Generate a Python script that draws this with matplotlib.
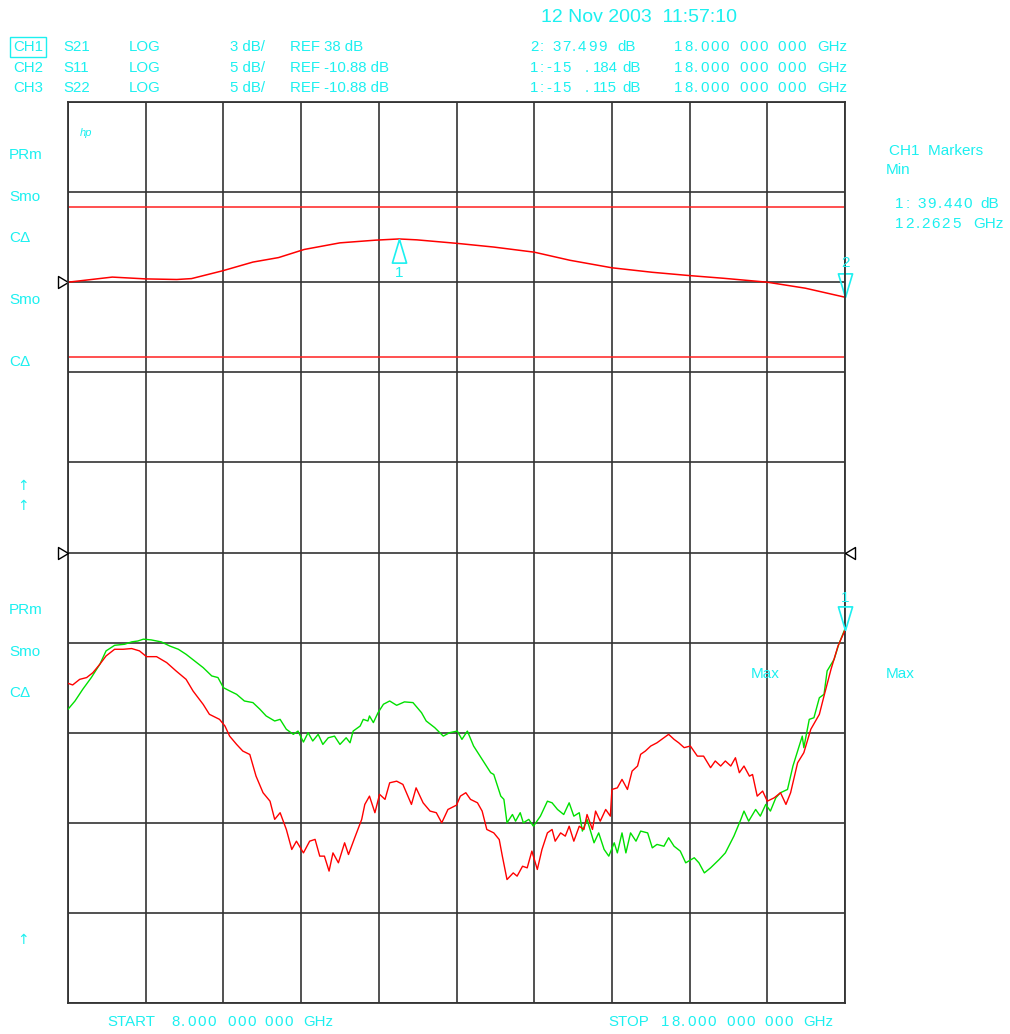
import numpy as np
import matplotlib
matplotlib.use("Agg")
import matplotlib.pyplot as plt

plt.rcParams['font.family'] = ['Liberation Sans', 'DejaVu Sans']

cyan = '#1CF0F0'
W, H = 1010, 1034

# CH1 S21 (LOG, 3 dB/div, REF 38 dB)
ch1_ref = 38.0
ch1_scale = 3.0
ch1_f = [8.0, 8.57, 9.0, 9.40, 9.59, 9.99, 10.38, 10.71, 11.04, 11.50, 11.96, 12.26,
         12.49, 13.02, 13.48, 14.0, 14.46, 15.0, 15.52, 16.0, 16.44, 17.0, 17.49, 18.0]
ch1_db = [38.0, 38.17, 38.11, 38.09, 38.12, 38.38, 38.67, 38.82, 39.09, 39.31, 39.40, 39.44,
          39.41, 39.29, 39.17, 39.0, 38.73, 38.48, 38.33, 38.22, 38.13, 38.0, 37.80, 37.50]
ch1_limits = [40.5, 35.5]

# CH2 S11 / CH3 S22 (LOG, 5 dB/div, REF -10.88 dB)
ch23_ref = -10.88
ch23_scale = 5.0
ch2_f = [8.0, 8.06, 8.15, 8.24, 8.32, 8.41, 8.49, 8.6, 8.71, 8.82, 8.92, 9.01, 9.14, 9.27,
         9.39, 9.52, 9.61, 9.74, 9.82, 9.95, 10.02, 10.08, 10.17, 10.25, 10.34, 10.42, 10.51,
         10.6, 10.66, 10.73, 10.81, 10.88, 10.94, 11.03, 11.11, 11.18, 11.24, 11.3, 11.36,
         11.41, 11.48, 11.56, 11.61, 11.69, 11.78, 11.82, 11.88, 11.95, 12.01, 12.08, 12.14,
         12.23, 12.31, 12.42, 12.48, 12.57, 12.66, 12.74, 12.81, 12.89, 13.0, 13.05, 13.12,
         13.18, 13.27, 13.33, 13.39, 13.48, 13.55, 13.59, 13.65, 13.73, 13.78, 13.85, 13.91,
         13.97, 14.04, 14.1, 14.17, 14.23, 14.27, 14.34, 14.4, 14.45, 14.51, 14.58, 14.64,
         14.68, 14.75, 14.79, 14.85, 14.92, 14.98, 15.0, 15.07, 15.13, 15.2, 15.26, 15.33,
         15.37, 15.43, 15.5, 15.58, 15.67, 15.73, 15.8, 15.86, 15.93, 16.01, 16.1, 16.18,
         16.27, 16.33, 16.4, 16.46, 16.53, 16.59, 16.64, 16.7, 16.77, 16.81, 16.87, 16.94,
         17.0, 17.09, 17.17, 17.24, 17.3, 17.39, 17.47, 17.56, 17.67, 17.73, 17.82, 17.91, 18.0]
ch2_db = [-18.14, -18.23, -17.92, -17.82, -17.55, -17.08, -16.62, -16.25, -16.25, -16.21,
          -16.34, -16.66, -16.66, -16.99, -17.45, -17.92, -18.57, -19.31, -19.86, -20.14,
          -20.51, -21.07, -21.53, -21.9, -22.09, -23.29, -24.21, -24.68, -25.69, -25.32,
          -26.25, -27.36, -26.9, -27.55, -26.9, -26.8, -27.73, -27.73, -28.56, -27.55, -28.1,
          -26.99, -27.64, -26.71, -25.69, -24.86, -24.4, -25.32, -24.3, -24.58, -23.66, -23.57,
          -23.75, -24.86, -23.94, -24.77, -25.23, -25.32, -25.88, -25.14, -24.9, -24.4, -24.21,
          -24.58, -24.77, -25.23, -26.25, -26.44, -26.81, -27.73, -29.03, -28.66, -28.84,
          -28.29, -28.38, -27.45, -28.47, -27.36, -26.44, -26.25, -26.9, -26.44, -26.62,
          -26.07, -26.9, -26.07, -26.25, -25.42, -26.25, -25.23, -25.79, -25.14, -25.51,
          -24.03, -23.94, -23.47, -24.03, -23.01, -22.73, -22.08, -21.9, -21.62, -21.44,
          -21.16, -20.97, -21.25, -21.44, -21.71, -21.62, -22.18, -22.18, -22.82, -22.45,
          -22.73, -22.45, -22.73, -22.27, -23.1, -22.73, -23.29, -23.2, -24.4, -24.12, -24.68,
          -24.49, -24.21, -24.86, -24.21, -22.55, -21.99, -20.69, -19.86, -18.84, -17.36,
          -16.07, -15.184]

ch3_f = [8.0, 8.09, 8.19, 8.3, 8.41, 8.49, 8.6, 8.73, 8.82, 8.9, 8.97, 9.07, 9.2, 9.31, 9.42,
         9.52, 9.63, 9.74, 9.85, 9.93, 10.0, 10.08, 10.17, 10.27, 10.38, 10.47, 10.55, 10.66,
         10.73, 10.81, 10.9, 10.96, 11.03, 11.09, 11.15, 11.22, 11.28, 11.35, 11.43, 11.5,
         11.58, 11.63, 11.67, 11.76, 11.8, 11.86, 11.88, 11.93, 11.99, 12.06, 12.14, 12.23,
         12.33, 12.44, 12.55, 12.61, 12.72, 12.83, 12.91, 13.01, 13.07, 13.14, 13.22, 13.33,
         13.44, 13.48, 13.57, 13.61, 13.65, 13.72, 13.76, 13.82, 13.86, 13.93, 13.99, 14.08,
         14.17, 14.23, 14.3, 14.38, 14.45, 14.51, 14.58, 14.62, 14.68, 14.77, 14.83, 14.9,
         14.96, 15.03, 15.07, 15.13, 15.18, 15.24, 15.31, 15.37, 15.46, 15.52, 15.58, 15.67,
         15.73, 15.8, 15.88, 15.95, 16.06, 16.12, 16.19, 16.27, 16.38, 16.46, 16.57, 16.66,
         16.7, 16.76, 16.85, 16.91, 16.98, 17.04, 17.11, 17.17, 17.26, 17.33, 17.41, 17.45,
         17.47, 17.54, 17.6, 17.67, 17.73, 17.77, 17.86, 17.92, 18.0]
ch3_db = [-19.58, -19.12, -18.47, -17.82, -17.08, -16.34, -16.03, -15.97, -15.84, -15.79,
          -15.69, -15.73, -15.84, -16.07, -16.25, -16.53, -16.9, -17.27, -17.73, -17.82,
          -18.38, -18.56, -18.75, -19.12, -19.21, -19.58, -19.95, -20.23, -20.14, -20.69,
          -20.97, -20.79, -21.4, -20.88, -21.34, -20.97, -21.53, -21.16, -21.07, -21.53,
          -21.16, -21.44, -20.79, -20.51, -20.14, -20.23, -19.95, -20.32, -19.77, -19.3,
          -19.12, -19.36, -19.17, -19.21, -19.77, -20.23, -20.6, -21.07, -20.88, -20.79,
          -21.25, -20.79, -21.62, -22.36, -23.1, -23.2, -24.4, -24.58, -25.88, -25.42, -25.79,
          -25.32, -25.88, -25.69, -26.07, -25.51, -24.68, -24.77, -25.14, -25.42, -24.77,
          -25.51, -25.32, -26.34, -25.69, -26.99, -26.44, -27.36, -27.73, -26.99, -27.55,
          -26.44, -27.55, -26.44, -26.9, -26.34, -26.44, -27.27, -27.08, -27.18, -26.71,
          -27.18, -27.45, -28.1, -27.82, -28.1, -28.66, -28.38, -27.92, -27.55, -26.62,
          -25.69, -25.23, -25.79, -25.14, -25.51, -24.86, -25.23, -24.49, -24.21, -24.03,
          -22.73, -21.62, -21.07, -21.71, -20.14, -20.05, -18.94, -18.75, -17.45, -16.81,
          -15.97, -15.115]

# markers (GHz, dB)
ch1_mk1 = (12.2625, 39.440)
ch1_mk2 = (18.0, 37.499)
ch2_mk1 = (18.0, -15.184)


def px(x, y):
    return x / W, 1 - y / H


ADV = {'.': 0.278, ':': 0.278, '-': 0.333, ' ': 0.278}


def put(x, y, s, tracked=False, size=10.8):
    # numbers on the analyzer screen have extra letter spacing
    if not tracked:
        fig.text(*px(x, y), s, color=cyan, fontsize=size, va='center')
        return
    em = size / 72 * 100
    for c in s:
        fig.text(*px(x, y), c, color=cyan, fontsize=size, va='center')
        x += ADV.get(c, 0.556) * em + 1.7


fig = plt.figure(figsize=(W / 100, H / 100), dpi=100)
ax1 = fig.add_axes([68 / W, 31 / H, 777 / W, 901 / H])
ax1.set_xlim(8, 18)
ax1.set_ylim(ch1_ref - 8 * ch1_scale, ch1_ref + 2 * ch1_scale)
ax1.set_xticks(np.arange(8, 19, 1))
ax1.set_yticks(np.arange(ch1_ref - 8 * ch1_scale, ch1_ref + 2 * ch1_scale + 0.1, ch1_scale))
ax1.grid(True, color='#333333', lw=1.2)
ax1.tick_params(length=0, labelleft=False, labelbottom=False)
for s in ax1.spines.values():
    s.set_color('#333333')
    s.set_linewidth(1.3)

ax2 = ax1.twinx()
ax2.set_ylim(ch23_ref - 5 * ch23_scale, ch23_ref + 5 * ch23_scale)
ax2.axis('off')

# traces
for lim in ch1_limits:
    ax1.axhline(lim, color='#FF2020', lw=1.1)
ax1.plot(ch1_f, ch1_db, color='#FF0000', lw=1.1)
ax2.plot(ch3_f, ch3_db, color='#00E000', lw=1.0)
ax2.plot(ch2_f, ch2_db, color='#FF0000', lw=1.0)

# reference triangles
tri_r = [(0, 0), (-1, 0.6), (-1, -0.6), (0, 0)]
tri_l = [(0, 0), (1, 0.6), (1, -0.6), (0, 0)]
kw = dict(ms=14.4, mfc='white', mec='black', mew=1.0, clip_on=False, ls='none')
ax1.plot(8, ch1_ref, marker=tri_r, **kw)
ax2.plot(8, ch23_ref, marker=tri_r, **kw)
ax2.plot(18, ch23_ref, marker=tri_l, **kw)

# marker triangles
tri_up = [(0, 0), (-0.3, -1), (0.3, -1), (0, 0)]
tri_dn = [(0, 0), (-0.3, 1), (0.3, 1), (0, 0)]
mkw = dict(ms=34, mfc='none', mec=cyan, mew=1.2, clip_on=False, ls='none')
ax1.plot(*ch1_mk1, marker=tri_up, **mkw)
ax1.plot(*ch1_mk2, marker=tri_dn, **mkw)
ax2.plot(*ch2_mk1, marker=tri_dn, **mkw)
tkw = dict(textcoords='offset points', ha='center', va='center', color=cyan, fontsize=11,
           annotation_clip=False)
ax1.annotate('1', ch1_mk1, xytext=(0, -24.5), **tkw)
ax1.annotate('2', ch1_mk2, xytext=(0, 24.5), **tkw)
ax2.annotate('1', ch2_mk1, xytext=(0, 23), **tkw)

# header
fig.text(*px(541, 17), '12 Nov 2003  11:57:10', color=cyan, fontsize=14, va='center')
rows = [('CH1', 'S21', 'LOG', '3 dB/', 'REF 38 dB'),
        ('CH2', 'S11', 'LOG', '5 dB/', 'REF -10.88 dB'),
        ('CH3', 'S22', 'LOG', '5 dB/', 'REF -10.88 dB')]
mk_read = [[(530, '2:', True), (552, '37.499', True), (617, 'dB', False)],
           [(530, '1:-15', True), (585, '.', False), (593, '184', False), (622, 'dB', False)],
           [(530, '1:-15', True), (585, '.', False), (593, '115', False), (622, 'dB', False)]]
freq_read = [(674, '18.000', True), (739, '000', True), (777, '000', True),
             (817, 'GHz', False)]
cols = [13, 63, 129, 230, 290]
for i, row in enumerate(rows):
    y = 47 + i * 20.5
    for j, txt in enumerate(row):
        t = fig.text(*px(cols[j], y), txt, color=cyan, fontsize=10.8, va='center')
        if i == 0 and j == 0:
            t.set_bbox(dict(boxstyle='square,pad=0.18', fc='none', ec=cyan, lw=1.0))
    for x, txt, tr in mk_read[i] + freq_read:
        put(x, y, txt, tracked=tr)

# left annotations
fig.text(*px(80, 133), 'hp', color=cyan, fontsize=8, style='italic', va='center')
for txt, y in [('PRm', 155), ('Smo', 197), ('C\u0394', 238), ('Smo', 300), ('C\u0394', 362),
               ('PRm', 610), ('Smo', 652), ('C\u0394', 693)]:
    fig.text(*px(9, y), txt, color=cyan, fontsize=11, va='center')
for y in [486, 506, 940]:
    fig.text(*px(23, y), '\u2191', color=cyan, fontsize=10, va='center', ha='center',
             family=['DejaVu Sans'])

# right annotations
fig.text(*px(889, 151), 'CH1  Markers', color=cyan, fontsize=11, va='center')
fig.text(*px(886, 170), 'Min', color=cyan, fontsize=11, va='center')
put(895, 204, '1:', True, 11)
put(917, 204, '39.440', True, 11)
put(980, 204, 'dB', False, 11)
put(895, 224, '12.2625', True, 11)
put(973, 224, 'GHz', False, 11)
fig.text(*px(751, 674), 'Max', color=cyan, fontsize=11, va='center')
fig.text(*px(886, 674), 'Max', color=cyan, fontsize=11, va='center')

# bottom
for x, txt in [(107, 'START'), (171, '8.000'), (227, '000'), (264, '000'), (303, 'GHz'),
               (608, 'STOP'), (661, '18.000'), (726, '000'), (764, '000'), (803, 'GHz')]:
    put(x, 1022, txt, tracked=txt[0].isdigit())

fig.savefig('out.png', dpi=100, facecolor='white')
